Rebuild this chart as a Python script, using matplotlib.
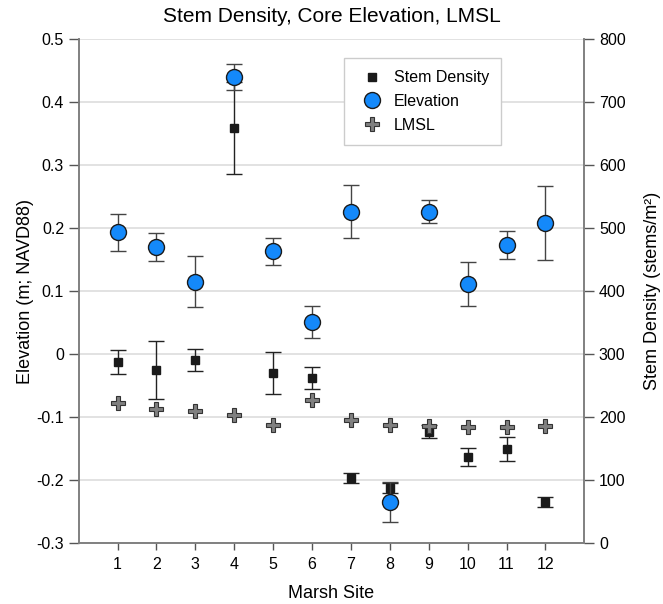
import matplotlib
matplotlib.use('Agg')
import matplotlib.pyplot as plt

plt.rcParams['font.family'] = ['Liberation Sans', 'DejaVu Sans']

# marsh sites
sites = [1, 2, 3, 4, 5, 6, 7, 8, 9, 10, 11, 12]

# core elevation (m NAVD88) with error
elevation = [0.193, 0.170, 0.115, 0.440, 0.163, 0.051, 0.226, -0.234, 0.226, 0.111, 0.173, 0.208]
elevation_err = [0.030, 0.022, 0.040, 0.021, 0.022, 0.025, 0.042, 0.032, 0.018, 0.035, 0.022, 0.058]

# stem density (stems/m2) with error
stem_density = [287, 275, 291, 658, 270, 262, 103, 87, 177, 137, 150, 66]
stem_err = [19, 46, 17, 73, 33, 18, 8, 8, 10, 14, 19, 8]

# local mean sea level (m NAVD88)
lmsl = [-0.077, -0.087, -0.090, -0.097, -0.113, -0.073, -0.104, -0.113, -0.114, -0.116, -0.116, -0.114]

fig = plt.figure(figsize=(6.63, 6.04), dpi=100)
ax = fig.add_axes([0.1187, 0.1005, 0.7626, 0.835])
ax2 = ax.twinx()

# stem density sits underneath the elevation axes
ax.set_zorder(ax2.get_zorder() + 1)
ax.patch.set_visible(False)

sd = ax2.errorbar(sites, stem_density, yerr=stem_err, fmt='s', color='#1a1a1a',
                  markersize=5.5, ecolor='#222222', elinewidth=1, capsize=6, capthick=1)
ax2.set_ylim(0, 800)
ax2.set_yticks(range(0, 801, 100))
ax2.grid(axis='y', color='#dddddd', linewidth=1.2)
ax2.set_axisbelow(True)

el = ax.errorbar(sites, elevation, yerr=elevation_err, fmt='o', markerfacecolor='#1489fa',
                 markeredgecolor='#1a1a1a', markeredgewidth=1, markersize=11.5,
                 ecolor='#444444', elinewidth=1, capsize=6, capthick=1, zorder=3)
lm, = ax.plot(sites, lmsl, 'P', markerfacecolor='#808080', markeredgecolor='#333333',
              markeredgewidth=0.8, markersize=10.5, linestyle='none', zorder=2)

ax.set_ylim(-0.3, 0.5)
ax.set_yticks([-0.3, -0.2, -0.1, 0, 0.1, 0.2, 0.3, 0.4, 0.5])
ax.set_yticklabels(['-0.3', '-0.2', '-0.1', '0', '0.1', '0.2', '0.3', '0.4', '0.5'])
ax.set_xlim(0, 13)
ax.set_xticks(sites)

for a in (ax, ax2):
    a.spines['top'].set_visible(False)
    for s in ('left', 'right', 'bottom'):
        a.spines[s].set_color('#808080')
        a.spines[s].set_linewidth(1.2)
    a.tick_params(axis='both', colors='#555555', labelcolor='black', labelsize=11.5,
                  length=7, width=1)
ax.tick_params(axis='x', length=5, pad=5)

ax.set_xlabel('Marsh Site', fontsize=13, labelpad=9)
ax.set_ylabel('Elevation (m; NAVD88)', fontsize=13, labelpad=2)
ax2.set_ylabel('Stem Density (stems/m²)', fontsize=13, labelpad=13)
ax.set_title('Stem Density, Core Elevation, LMSL', fontsize=15, pad=12)

leg = ax.legend([sd[0], el[0], lm], ['Stem Density', 'Elevation', 'LMSL'],
                loc='upper left', bbox_to_anchor=(0.525, 0.962), borderaxespad=0,
                fontsize=11.5, fancybox=False, edgecolor='#cccccc', framealpha=1,
                borderpad=0.75, labelspacing=0.55, handletextpad=0.35)

plt.savefig('out.png', dpi=100)
